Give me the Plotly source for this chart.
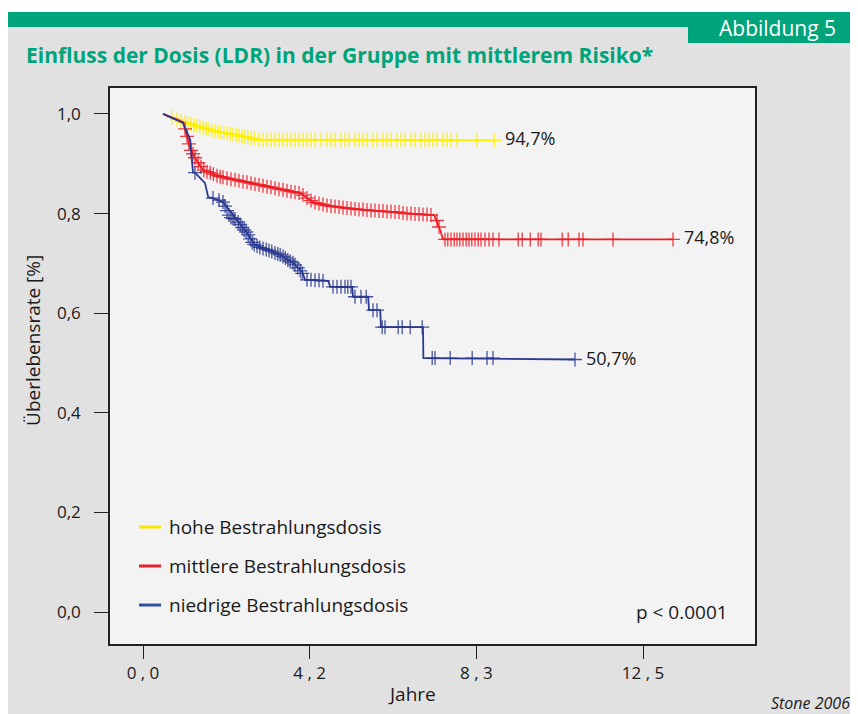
import plotly.graph_objects as go

# Kaplan-Meier curves (years, survival)
hoch_t = [0.5, 1.0, 1.43, 1.85, 2.3, 2.68, 2.85, 8.78]
hoch_s = [1.0, 0.984, 0.974, 0.964, 0.958, 0.952, 0.948, 0.947]

mittel_t = [0.5, 1.0, 1.18, 1.35, 1.5, 1.85, 2.35, 3.18, 3.93, 4.25, 4.6, 5.1,
            5.93, 6.5, 7.28, 7.43, 7.5, 13.25]
mittel_s = [1.0, 0.984, 0.93, 0.905, 0.888, 0.876, 0.867, 0.853, 0.841, 0.823, 0.816, 0.811,
            0.805, 0.801, 0.797, 0.767, 0.748, 0.748]

niedrig_t = [0.5, 1.0, 1.18, 1.25, 1.3, 1.55, 1.63, 1.75, 2.0, 2.35, 2.6, 2.8, 3.1, 3.43,
             3.75, 3.85, 3.98, 4.05, 4.63, 4.68, 5.23, 5.25, 5.63, 5.65, 5.93, 5.95,
             7.0, 7.01, 10.8]
niedrig_s = [1.0, 0.982, 0.948, 0.882, 0.882, 0.861, 0.833, 0.831, 0.823, 0.787, 0.761, 0.737,
             0.727, 0.717, 0.701, 0.693, 0.683, 0.667, 0.665, 0.653, 0.653, 0.633, 0.633,
             0.606, 0.606, 0.572, 0.572, 0.51, 0.507]

# censored observations
hoch_cens_t = [0.72, 0.85, 0.95, 1.05, 1.12, 1.2, 1.28, 1.35, 1.42, 1.5, 1.58, 1.65, 1.72,
               1.8, 1.88, 1.95, 2.02, 2.1, 2.18, 2.25, 2.33, 2.4, 2.48, 2.55, 2.62, 2.7, 2.78,
               2.9, 3.0, 3.1, 3.2, 3.3, 3.4, 3.5, 3.6, 3.7, 3.8, 3.9, 4.0, 4.1, 4.2, 4.3,
               4.45, 4.6, 4.7, 4.8, 4.95, 5.05, 5.15, 5.3, 5.4, 5.5, 5.6, 5.75, 5.85, 6.0,
               6.1, 6.2, 6.35, 6.45, 6.55, 6.7, 6.8, 6.95, 7.05, 7.15, 7.25, 7.35, 7.5,
               7.6, 7.7, 7.85, 8.35, 8.78]
hoch_cens_s = [0.993, 0.989, 0.985, 0.983, 0.981, 0.979, 0.977, 0.976, 0.974, 0.972, 0.970,
               0.969, 0.967, 0.965, 0.964, 0.963, 0.962, 0.961, 0.960, 0.959, 0.958, 0.956,
               0.955, 0.954, 0.953, 0.952, 0.950,
               0.948, 0.948, 0.948, 0.948, 0.948, 0.948, 0.948, 0.948, 0.948, 0.948, 0.948,
               0.948, 0.948, 0.948, 0.948, 0.948, 0.948, 0.948, 0.948, 0.948, 0.948, 0.948,
               0.948, 0.948, 0.948, 0.948, 0.948, 0.948, 0.948, 0.948, 0.948, 0.948, 0.948,
               0.948, 0.948, 0.948, 0.948, 0.948, 0.948, 0.948, 0.948, 0.948, 0.948, 0.948,
               0.948, 0.948, 0.947]

mittel_cens_t = [1.05, 1.1, 1.15, 1.2, 1.25, 1.3, 1.38, 1.45, 1.52, 1.6, 1.68, 1.76, 1.85,
                 1.93, 2.0, 2.1, 2.2, 2.3, 2.4, 2.5, 2.6, 2.7, 2.8, 2.9, 3.0, 3.1, 3.2, 3.3,
                 3.4, 3.5, 3.6, 3.7, 3.8, 3.9, 4.0, 4.1, 4.2, 4.3, 4.4, 4.5, 4.6, 4.7, 4.8,
                 4.9, 5.0, 5.1, 5.2, 5.3, 5.4, 5.5, 5.6, 5.7, 5.8, 5.9, 6.0, 6.1, 6.2, 6.3,
                 6.4, 6.5, 6.6, 6.7, 6.8, 6.9, 7.0, 7.1, 7.2, 7.35, 7.4,
                 7.55, 7.62, 7.7, 7.78, 7.85, 7.92, 8.0, 8.08, 8.15, 8.22, 8.3, 8.38, 8.45,
                 8.55, 8.65, 8.75, 8.9, 9.38, 9.48, 9.68, 9.88, 9.95, 10.48, 10.63, 10.9,
                 11.0, 11.75, 13.25]
mittel_cens_s = [0.970, 0.955, 0.940, 0.927, 0.920, 0.912, 0.902, 0.894, 0.887, 0.884, 0.882,
                 0.879, 0.876, 0.874, 0.873, 0.871, 0.869, 0.868, 0.866, 0.864, 0.863, 0.861,
                 0.859, 0.858, 0.856, 0.854, 0.853, 0.851, 0.849, 0.848, 0.846, 0.844, 0.843,
                 0.841, 0.837, 0.831, 0.826, 0.822, 0.820, 0.818, 0.816, 0.815, 0.814, 0.813,
                 0.812, 0.811, 0.810, 0.809, 0.808, 0.808, 0.807, 0.806, 0.806, 0.805, 0.805,
                 0.804, 0.804, 0.803, 0.803, 0.801, 0.800, 0.800, 0.799, 0.799, 0.798, 0.798,
                 0.797, 0.786, 0.773,
                 0.748, 0.748, 0.748, 0.748, 0.748, 0.748, 0.748, 0.748, 0.748, 0.748, 0.748,
                 0.748, 0.748, 0.748, 0.748, 0.748, 0.748, 0.748, 0.748, 0.748, 0.748, 0.748,
                 0.748, 0.748, 0.748, 0.748, 0.748, 0.748]

niedrig_cens_t = [1.3, 1.75, 1.9, 2.0, 2.05, 2.1, 2.15, 2.2, 2.25, 2.3, 2.38, 2.43, 2.48,
                  2.53, 2.58, 2.63, 2.68, 2.73, 2.78, 2.85, 2.92, 3.0, 3.08, 3.15, 3.22, 3.3,
                  3.37, 3.43, 3.5, 3.56, 3.62, 3.68, 3.75, 3.8, 3.87, 3.93, 3.98, 4.1, 4.2,
                  4.3, 4.4, 4.5, 4.75, 4.85, 4.95, 5.05, 5.12, 5.2, 5.3, 5.45, 5.58, 5.75,
                  5.85, 5.98, 6.05, 6.38, 6.48, 6.68, 6.98, 7.23, 7.3, 7.68, 8.23, 8.6,
                  8.75, 10.8]
niedrig_cens_s = [0.882, 0.831, 0.827, 0.823, 0.815, 0.806, 0.797, 0.792, 0.790, 0.789,
                  0.783, 0.778, 0.772, 0.767, 0.763, 0.757, 0.749, 0.742, 0.738, 0.735,
                  0.732, 0.730, 0.728, 0.726, 0.724, 0.721, 0.719, 0.717, 0.714, 0.711,
                  0.707, 0.704, 0.701, 0.697, 0.691, 0.685, 0.680, 0.667, 0.667, 0.666,
                  0.666, 0.665, 0.653, 0.653, 0.653, 0.653, 0.653, 0.653, 0.633, 0.633,
                  0.633, 0.606, 0.606, 0.572, 0.572, 0.572, 0.572, 0.572, 0.572, 0.51,
                  0.51, 0.51, 0.51, 0.51, 0.51, 0.507]

gruppen = ["hohe Bestrahlungsdosis", "mittlere Bestrahlungsdosis", "niedrige Bestrahlungsdosis"]
end_labels = ["94,7%", "74,8%", "50,7%"]
x_ticks = [0, 50 / 12, 100 / 12, 12.5]
x_ticktext = ["0 , 0", "4 , 2", "8 , 3", "12 , 5"]
y_ticks = [0, 0.2, 0.4, 0.6, 0.8, 1.0]
y_ticktext = ["0,0", "0,2", "0,4", "0,6", "0,8", "1,0"]

farben = ["#fff000", "#ee1c25", "#2b3990"]
legend_farben = ["#f7e600", "#e8212a", "#2f52a0"]
GRUEN = "#00a47a"
FONT = "Open Sans"
TXT = "#1a1a1a"

fig = go.Figure()
curves = [(hoch_t, hoch_s, hoch_cens_t, hoch_cens_s),
          (mittel_t, mittel_s, mittel_cens_t, mittel_cens_s),
          (niedrig_t, niedrig_s, niedrig_cens_t, niedrig_cens_s)]

for (t, s, ct, cs), col, name, lab in zip(curves, farben, gruppen, end_labels):
    fig.add_trace(go.Scatter(x=t, y=s, mode="lines", name=name,
                             line=dict(color=col, width=1.8), showlegend=False))
    fig.add_trace(go.Scatter(x=ct, y=cs, mode="markers", showlegend=False,
                             marker=dict(symbol="cross-thin", size=10, opacity=0.85,
                                         line=dict(color=col, width=1.3))))
    fig.add_annotation(x=t[-1], y=s[-1], text=lab, showarrow=False, xanchor="left",
                       xshift=9, yshift=2, font=dict(family=FONT, size=18, color=TXT))

# header: white strip, green band, figure tag, title
fig.add_shape(type="rect", xref="paper", yref="paper", x0=-0.17, x1=1.32, y0=1.1367,
              y1=1.16, fillcolor="white", line_width=0, layer="above")
fig.add_shape(type="rect", xref="paper", yref="paper", x0=-0.17, x1=1.32, y0=1.1097,
              y1=1.1367, fillcolor=GRUEN, line_width=0, layer="above")
fig.add_shape(type="rect", xref="paper", yref="paper", x0=0.8961, x1=1.32, y0=1.0809,
              y1=1.1367, fillcolor=GRUEN, line_width=0, layer="above")
fig.add_annotation(xref="paper", yref="paper", x=1.1287, y=1.1079, text="Abbildung 5",
                   showarrow=False, xanchor="right", yanchor="middle",
                   font=dict(family=FONT, size=21, color="white"))
fig.add_annotation(xref="paper", yref="paper", x=-0.1333, y=1.0594,
                   text="<b>Einfluss der Dosis (LDR) in der Gruppe mit mittlerem Risiko*</b>",
                   showarrow=False, xanchor="left", yanchor="middle",
                   font=dict(family=FONT, size=21, color=GRUEN))

# legend drawn by hand
leg_y = [0.2104, 0.1403, 0.0701]
for name, col, yy in zip(gruppen, legend_farben, leg_y):
    fig.add_shape(type="line", xref="paper", yref="paper", x0=0.045, x1=0.0791, y0=yy, y1=yy,
                  line=dict(color=col, width=3))
    fig.add_annotation(xref="paper", yref="paper", x=0.0884, y=yy, text=name, showarrow=False,
                       xanchor="left", yanchor="middle",
                       font=dict(family=FONT, size=19, color=TXT))

fig.add_annotation(xref="paper", yref="paper", x=0.9612, y=0.0576, text="p &lt; 0.0001",
                   showarrow=False, xanchor="right", yanchor="middle",
                   font=dict(family=FONT, size=19, color=TXT))
fig.add_annotation(xref="paper", yref="paper", x=0.4682, y=-0.0899, text="Jahre",
                   showarrow=False, xanchor="center", yanchor="middle",
                   font=dict(family=FONT, size=19, color=TXT))
fig.add_annotation(xref="paper", yref="paper", x=-0.1194, y=0.5468,
                   text="Überlebensrate [%]", textangle=-90, showarrow=False,
                   xanchor="center", yanchor="middle",
                   font=dict(family=FONT, size=19, color=TXT))
fig.add_annotation(xref="paper", yref="paper", x=1.1504, y=-0.1061, text="<i>Stone 2006</i>",
                   showarrow=False, xanchor="right", yanchor="middle",
                   font=dict(family=FONT, size=16, color=TXT))

fig.update_xaxes(range=[-0.825, 15.3], tickvals=x_ticks, ticktext=x_ticktext,
                 ticks="outside", ticklen=13, tickcolor="#222", tickwidth=1.2,
                 showline=True, mirror=True, linecolor="#222", linewidth=1.5,
                 showgrid=False, zeroline=False,
                 tickfont=dict(family=FONT, size=17, color=TXT))
fig.update_yaxes(range=[-0.064, 1.052], tickvals=y_ticks, ticktext=y_ticktext,
                 ticks="outside", ticklen=14, tickcolor="#222", tickwidth=1.2,
                 ticklabelstandoff=10,
                 showline=True, mirror=True, linecolor="#222", linewidth=1.5,
                 showgrid=False, zeroline=False,
                 tickfont=dict(family=FONT, size=17, color=TXT))

# page body adds an 8px white border, so the figure is 8px smaller
fig.update_layout(width=850, height=706, margin=dict(l=102, r=103, t=80, b=70),
                  paper_bgcolor="#e1e1e1", plot_bgcolor="#f3f3f3", showlegend=False)

fig.write_html("out.html")
